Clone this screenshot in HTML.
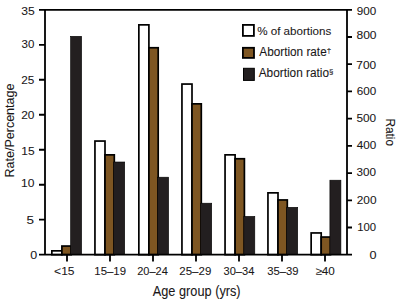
<!DOCTYPE html>
<html><head><meta charset="utf-8"><style>
html,body{margin:0;padding:0;background:#fff;width:399px;height:303px;overflow:hidden}
svg{display:block}
text{font-family:"Liberation Sans",sans-serif;fill:#1a1718;stroke:#1a1718;stroke-width:0.08px}
</style></head><body>
<svg width="399" height="303" viewBox="0 0 399 303">
<rect x="51.85" y="250.85" width="10.05" height="3.85" fill="#fff" stroke="#000" stroke-width="1.7"/>
<rect x="61.90" y="246.05" width="9.30" height="8.65" fill="#7e5622" stroke="#000" stroke-width="1.7"/>
<rect x="70.60" y="36.30" width="11.00" height="218.40" fill="#231f20" stroke="#000" stroke-width="0.6"/>
<rect x="94.95" y="141.05" width="10.05" height="113.65" fill="#fff" stroke="#000" stroke-width="1.7"/>
<rect x="105.00" y="154.85" width="9.30" height="99.85" fill="#7e5622" stroke="#000" stroke-width="1.7"/>
<rect x="113.70" y="162.00" width="11.00" height="92.70" fill="#231f20" stroke="#000" stroke-width="0.6"/>
<rect x="138.85" y="24.85" width="10.05" height="229.85" fill="#fff" stroke="#000" stroke-width="1.7"/>
<rect x="148.90" y="47.75" width="9.30" height="206.95" fill="#7e5622" stroke="#000" stroke-width="1.7"/>
<rect x="157.60" y="177.20" width="11.00" height="77.50" fill="#231f20" stroke="#000" stroke-width="0.6"/>
<rect x="181.95" y="84.05" width="10.05" height="170.65" fill="#fff" stroke="#000" stroke-width="1.7"/>
<rect x="192.00" y="103.85" width="9.30" height="150.85" fill="#7e5622" stroke="#000" stroke-width="1.7"/>
<rect x="200.70" y="203.20" width="11.00" height="51.50" fill="#231f20" stroke="#000" stroke-width="0.6"/>
<rect x="225.05" y="154.85" width="10.05" height="99.85" fill="#fff" stroke="#000" stroke-width="1.7"/>
<rect x="235.10" y="158.75" width="9.30" height="95.95" fill="#7e5622" stroke="#000" stroke-width="1.7"/>
<rect x="243.80" y="216.40" width="11.00" height="38.30" fill="#231f20" stroke="#000" stroke-width="0.6"/>
<rect x="267.95" y="192.85" width="10.05" height="61.85" fill="#fff" stroke="#000" stroke-width="1.7"/>
<rect x="278.00" y="199.95" width="9.30" height="54.75" fill="#7e5622" stroke="#000" stroke-width="1.7"/>
<rect x="286.70" y="207.30" width="11.00" height="47.40" fill="#231f20" stroke="#000" stroke-width="0.6"/>
<rect x="311.15" y="232.95" width="10.05" height="21.75" fill="#fff" stroke="#000" stroke-width="1.7"/>
<rect x="321.20" y="237.05" width="9.30" height="17.65" fill="#7e5622" stroke="#000" stroke-width="1.7"/>
<rect x="329.90" y="180.20" width="11.00" height="74.50" fill="#231f20" stroke="#000" stroke-width="0.6"/>
<path d="M39 9.8H352M39 254.7H352M45.0 9.8V254.7M347.0 9.8V254.7" stroke="#000" stroke-width="1.8" fill="none"/>
<path d="M39 219.71H45.0M39 184.73H45.0M39 149.74H45.0M39 114.76H45.0M39 79.77H45.0M39 44.79H45.0M347.0 227.49H352M347.0 200.28H352M347.0 173.07H352M347.0 145.86H352M347.0 118.64H352M347.0 91.43H352M347.0 64.22H352M347.0 37.01H352M67.00 254.7V261.5M110.00 254.7V261.5M153.00 254.7V261.5M196.00 254.7V261.5M239.00 254.7V261.5M282.00 254.7V261.5M325.00 254.7V261.5" stroke="#000" stroke-width="1.8" fill="none"/>
<text x="21.22" y="14.90" font-size="11" textLength="13.49" lengthAdjust="spacingAndGlyphs">35</text>
<text x="21.61" y="48.00" font-size="11" textLength="12.82" lengthAdjust="spacingAndGlyphs">30</text>
<text x="21.17" y="84.00" font-size="11" textLength="13.09" lengthAdjust="spacingAndGlyphs">25</text>
<text x="21.19" y="119.00" font-size="11" textLength="13.29" lengthAdjust="spacingAndGlyphs">20</text>
<text x="21.26" y="154.80" font-size="11" textLength="13.34" lengthAdjust="spacingAndGlyphs">15</text>
<text x="21.13" y="187.20" font-size="11" textLength="13.42" lengthAdjust="spacingAndGlyphs">10</text>
<text x="26.40" y="224.00" font-size="11" textLength="7.47" lengthAdjust="spacingAndGlyphs">5</text>
<text x="30.33" y="259.10" font-size="11" textLength="6.93" lengthAdjust="spacingAndGlyphs">0</text>
<text x="356.70" y="15.00" font-size="11" textLength="19.46" lengthAdjust="spacingAndGlyphs">900</text>
<text x="356.44" y="38.70" font-size="11" textLength="20.08" lengthAdjust="spacingAndGlyphs">800</text>
<text x="356.29" y="68.80" font-size="11" textLength="19.81" lengthAdjust="spacingAndGlyphs">700</text>
<text x="356.67" y="94.90" font-size="11" textLength="19.49" lengthAdjust="spacingAndGlyphs">600</text>
<text x="356.42" y="121.60" font-size="11" textLength="19.72" lengthAdjust="spacingAndGlyphs">500</text>
<text x="356.78" y="148.90" font-size="11" textLength="19.53" lengthAdjust="spacingAndGlyphs">400</text>
<text x="356.59" y="176.30" font-size="11" textLength="19.51" lengthAdjust="spacingAndGlyphs">300</text>
<text x="356.78" y="203.80" font-size="11" textLength="19.75" lengthAdjust="spacingAndGlyphs">200</text>
<text x="357.19" y="230.80" font-size="11" textLength="18.90" lengthAdjust="spacingAndGlyphs">100</text>
<text x="369.55" y="258.70" font-size="11" textLength="7.02" lengthAdjust="spacingAndGlyphs">0</text>
<text x="54.13" y="274.80" font-size="11" textLength="20.37" lengthAdjust="spacingAndGlyphs">&lt;15</text>
<text x="94.37" y="274.80" font-size="11" textLength="31.63" lengthAdjust="spacingAndGlyphs">15&#8211;19</text>
<text x="137.26" y="274.80" font-size="11" textLength="30.61" lengthAdjust="spacingAndGlyphs">20&#8211;24</text>
<text x="179.37" y="274.80" font-size="11" textLength="31.91" lengthAdjust="spacingAndGlyphs">25&#8211;29</text>
<text x="223.55" y="274.80" font-size="11" textLength="30.79" lengthAdjust="spacingAndGlyphs">30&#8211;34</text>
<text x="267.15" y="274.80" font-size="11" textLength="31.28" lengthAdjust="spacingAndGlyphs">35&#8211;39</text>
<text x="315.41" y="274.80" font-size="11" textLength="19.44" lengthAdjust="spacingAndGlyphs">&#8805;40</text>
<text x="152.75" y="295.90" font-size="14.3" textLength="87.87" lengthAdjust="spacingAndGlyphs">Age group (yrs)</text>
<text x="257.13" y="35.00" font-size="11.8" textLength="74.22" lengthAdjust="spacingAndGlyphs">% of abortions</text>
<text x="259.33" y="55.50" font-size="12" textLength="71.73" lengthAdjust="spacingAndGlyphs">Abortion rate<tspan font-size="8" dy="-3">&#8224;</tspan></text>
<text x="258.73" y="76.80" font-size="12" textLength="74.61" lengthAdjust="spacingAndGlyphs">Abortion ratio<tspan font-size="8" dy="-3">&#167;</tspan></text>
<text transform="translate(13.86 177.41) rotate(-90)" font-size="12.4" textLength="93.75" lengthAdjust="spacingAndGlyphs">Rate/Percentage</text>
<text transform="translate(385.70 118.42) rotate(90)" font-size="12.8" textLength="27.58" lengthAdjust="spacingAndGlyphs">Ratio</text>
<rect x="242.9" y="24.9" width="11" height="11" fill="#fff" stroke="#000" stroke-width="1.8"/>
<rect x="242.9" y="47.8" width="11.1" height="10.1" fill="#7e5622" stroke="#000" stroke-width="1.8"/>
<rect x="243.5" y="68.3" width="10.8" height="12.1" fill="#231f20" stroke="#000" stroke-width="1"/>
</svg>
</body></html>
